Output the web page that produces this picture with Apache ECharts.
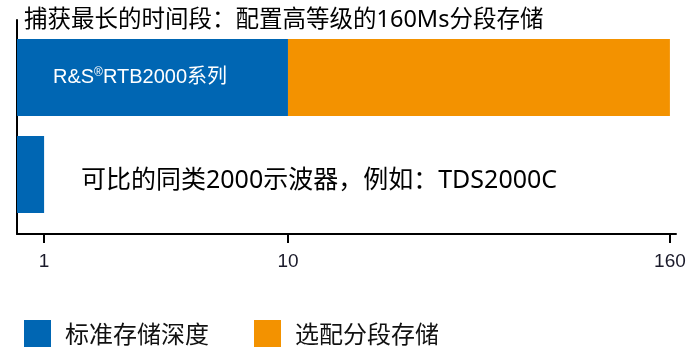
<!DOCTYPE html>
<html>
<head>
<meta charset="utf-8">
<script src="https://cdn.jsdelivr.net/npm/echarts@6/dist/echarts.min.js"></script>
<style>
html,body{margin:0;padding:0;background:#fff;}
#c{width:689px;height:355px;}
</style>
</head>
<body>
<div id="c"></div>
<script>
const titleText = '捕获最长的时间段：配置高等级的160Ms分段存储';
const categories = ['R&S®RTB2000系列', '可比的同类2000示波器，例如：TDS2000C'];
const seriesNames = ['标准存储深度', '选配分段存储'];
const standardDepth = [10, 1];
const segmentedDepth = [160, null];
const tickValues = [1, 10, 160];

const BLUE = '#0066b3';
const ORANGE = '#f39200';

// piecewise axis: 0..10 linear, 10..160 compressed
const K = 0.09397;
function fwd(v) { return v <= 10 ? v : 10 + (v - 10) * K; }
function inv(u) { return u <= 10 ? u : 10 + (u - 10) / K; }
const AXMAX = 24.32;

const blueData = standardDepth.map(v => fwd(v));
const orangeData = segmentedDepth.map((v, i) => v == null ? null : fwd(v) - fwd(standardDepth[i]));
const ticks = tickValues.map(fwd);

const chart = echarts.init(document.getElementById('c'), null, {renderer: 'canvas'});
chart.setOption({
  animation: false,
  backgroundColor: '#fff',
  title: {
    text: titleText, left: 19, top: 4,
    textStyle: {fontSize: 23.5, fontWeight: 'normal', color: '#000', fontFamily: "'Noto Sans', 'Noto Sans CJK SC', sans-serif"}
  },
  legend: {
    data: seriesNames,
    left: 19, top: 315,
    itemWidth: 27, itemHeight: 27, itemGap: 45,
    icon: 'rect',
    textStyle: {fontSize: 24, color: '#111', padding: [0, 0, 0, 9], fontFamily: "'Noto Sans CJK SC', sans-serif"}
  },
  grid: [
    {left: 17, right: 13, top: 29, height: 194, containLabel: false},
    {left: 17, right: 13, top: 20, bottom: 121, containLabel: false}
  ],
  xAxis: [
    {type: 'value', gridIndex: 0, min: 0, max: AXMAX, show: false},
    {type: 'value', gridIndex: 1, min: 0, max: AXMAX, position: 'bottom',
     axisLine: {show: true, onZero: false, lineStyle: {color: '#000', width: 2}},
     axisTick: {show: true, customValues: ticks, length: 9, lineStyle: {color: '#000', width: 2}},
     axisLabel: {show: true, customValues: ticks, margin: 18, fontSize: 19, color: '#1a1a2a',
       fontFamily: "'Liberation Sans', Arial, sans-serif",
       formatter: v => String(Math.round(inv(v)))},
     splitLine: {show: false}}
  ],
  yAxis: [
    {type: 'category', gridIndex: 0, data: categories, inverse: true, show: false},
    {type: 'value', gridIndex: 1, min: 0, max: 1,
     axisLine: {show: true, onZero: false, lineStyle: {color: '#000', width: 2}},
     axisTick: {show: false}, axisLabel: {show: false}, splitLine: {show: false}}
  ],
  series: [
    {
      name: seriesNames[0], type: 'bar', stack: 'total', xAxisIndex: 0, yAxisIndex: 0,
      barWidth: 77, itemStyle: {color: BLUE},
      data: [
        {value: blueData[0], label: {
          show: true, position: [36, '50%'], verticalAlign: 'middle',
          formatter: () => { const p = categories[0].split('®'); return '{a|' + p[0] + '}{sup|®}{a|' + p[1] + '}'; },
          rich: {
            a: {fontSize: 20, color: '#fff', fontFamily: "'Liberation Sans', 'Noto Sans CJK SC', sans-serif", lineHeight: 22},
            sup: {fontSize: 12, color: '#fff', fontFamily: "'Liberation Sans', sans-serif", verticalAlign: 'top', lineHeight: 22}
          }
        }},
        {value: blueData[1], label: {
          show: true, position: [64, '50%'], verticalAlign: 'middle', offset: [0, 6],
          formatter: () => categories[1],
          fontSize: 25, color: '#000', fontFamily: "'Noto Sans', 'Noto Sans CJK SC', sans-serif"
        }}
      ]
    },
    {
      name: seriesNames[1], type: 'bar', stack: 'total', xAxisIndex: 0, yAxisIndex: 0,
      barWidth: 77, itemStyle: {color: ORANGE},
      data: orangeData
    }
  ]
});
</script>
</body>
</html>
